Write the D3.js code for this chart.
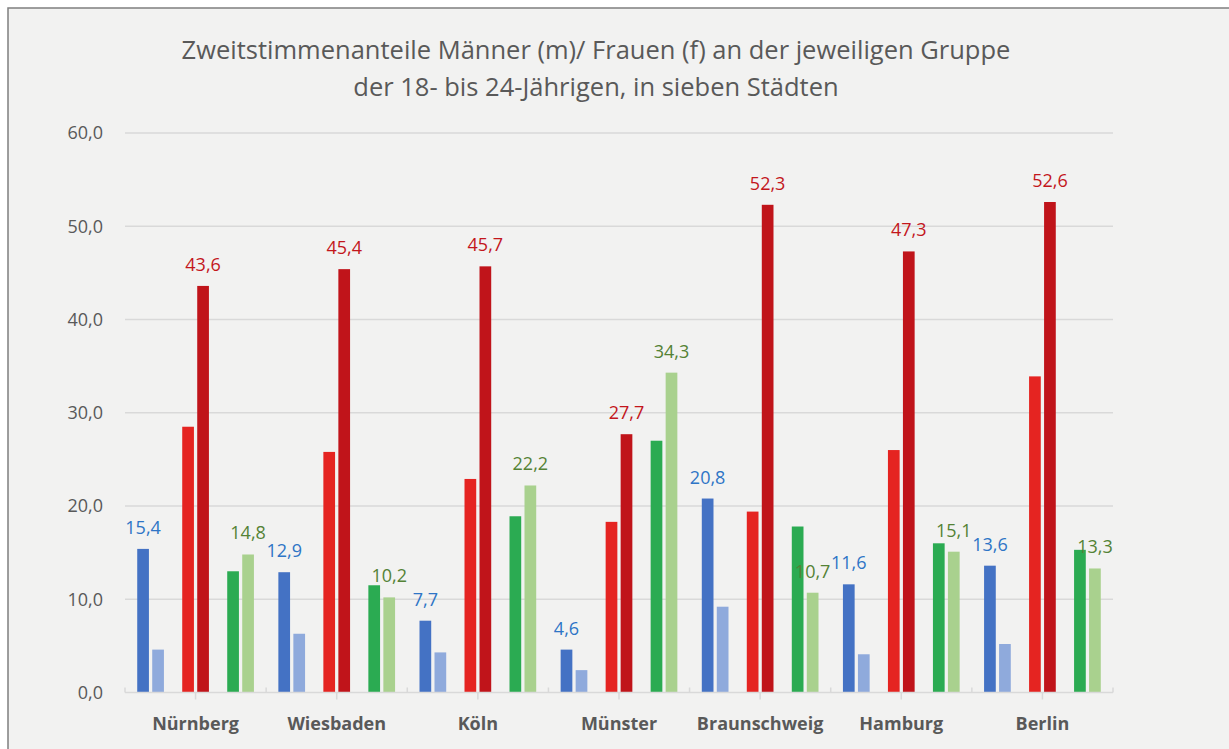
<!DOCTYPE html>
<html>
<head>
<meta charset="utf-8">
<script src="https://cdn.jsdelivr.net/npm/d3@7"></script>
<style>
  html, body { margin: 0; padding: 0; background: #fff; }
  svg { display: block; font-family: "Open Sans", sans-serif; }
</style>
</head>
<body>
<svg width="1229" height="749"></svg>
<script>
// Daten
const cities = ["Nürnberg", "Wiesbaden", "Köln", "Münster", "Braunschweig", "Hamburg", "Berlin"];
const blau1 = [15.4, 12.9, 7.7, 4.6, 20.8, 11.6, 13.6];
const blau2 = [4.6, 6.3, 4.3, 2.4, 9.2, 4.1, 5.2];
const rot1 = [28.5, 25.8, 22.9, 18.3, 19.4, 26.0, 33.9];
const rot2 = [43.6, 45.4, 45.7, 27.7, 52.3, 47.3, 52.6];
const gruen1 = [13.0, 11.5, 18.9, 27.0, 17.8, 16.0, 15.3];
const gruen2 = [14.8, 10.2, 22.2, 34.3, 10.7, 15.1, 13.3];
const yTicks = [0, 10, 20, 30, 40, 50, 60];
const titleLines = [
  "Zweitstimmenanteile Männer (m)/ Frauen (f) an der jeweiligen Gruppe",
  "der 18- bis 24-Jährigen, in sieben Städten"
];

// Serien: key, Werte, Farbe, Beschriftung
const series = [
  {key: "blau1", values: blau1, color: "#4472c4", label: "#2e75c6"},
  {key: "blau2", values: blau2, color: "#8faadc", label: null},
  {key: "rot1", values: rot1, color: "#e52421", label: null},
  {key: "rot2", values: rot2, color: "#c0141a", label: "#c3161c"},
  {key: "gruen1", values: gruen1, color: "#2bab52", label: null},
  {key: "gruen2", values: gruen2, color: "#a9d18e", label: "#548235"}
];
// Leere Plätze zwischen den Paaren
const slots = ["blau1", "blau2", "_a", "rot1", "rot2", "_b", "gruen1", "gruen2"];

const de = d3.formatLocale({decimal: ",", thousands: ".", grouping: [3], currency: ["", "€"]});
const fmt = de.format(".1f");

const svg = d3.select("svg");
const textColor = "#595959";

// Diagrammfläche
svg.append("rect")
  .attr("x", 8).attr("y", 8)
  .attr("width", 1240).attr("height", 760)
  .attr("fill", "#f2f2f1")
  .attr("stroke", "#7f7f7f")
  .attr("stroke-width", 1.5);

// Titel
svg.append("g").selectAll("text")
  .data(titleLines)
  .enter().append("text")
    .attr("x", 596)
    .attr("y", (d, i) => 59 + i * 37)
    .attr("text-anchor", "middle")
    .attr("fill", textColor)
    .attr("font-size", "25.5px")
    .text(d => d);

const x0 = d3.scaleBand().domain(cities).range([125, 1113]).padding(0);
const groupW = 116.7;
const x1 = d3.scaleBand().domain(slots)
  .range([(x0.bandwidth() - groupW) / 2, (x0.bandwidth() + groupW) / 2])
  .paddingInner(0.22).paddingOuter(0);
const y = d3.scaleLinear().domain([0, 60]).range([692.5, 133]);

// Gitterlinien
svg.append("g")
  .selectAll("line")
  .data(yTicks.filter(d => d > 0))
  .enter().append("line")
    .attr("x1", 125).attr("x2", 1113)
    .attr("y1", d => y(d)).attr("y2", d => y(d))
    .attr("stroke", "#d9d9d9")
    .attr("stroke-width", 1.5);

// y-Achse Beschriftung
const yAxis = svg.append("g")
  .attr("transform", "translate(125,0)")
  .call(d3.axisLeft(y).tickValues(yTicks).tickFormat(fmt).tickSize(0).tickPadding(22));
yAxis.select(".domain").remove();
yAxis.selectAll("text")
  .attr("fill", textColor)
  .attr("font-size", "18px")
  .attr("font-family", "Open Sans, sans-serif");

// Balken
const groups = svg.append("g")
  .selectAll("g")
  .data(cities)
  .enter().append("g")
    .attr("transform", d => "translate(" + x0(d) + ",0)");

groups.selectAll("rect")
  .data((c, i) => series.map(s => ({key: s.key, color: s.color, value: s.values[i]})))
  .enter().append("rect")
    .attr("x", d => x1(d.key))
    .attr("width", x1.bandwidth())
    .attr("y", d => y(d.value))
    .attr("height", d => y(0) - y(d.value))
    .attr("fill", d => d.color);

// Datenbeschriftungen
groups.selectAll("text")
  .data((c, i) => series.filter(s => s.label).map(s => ({key: s.key, color: s.label, value: s.values[i]})))
  .enter().append("text")
    .attr("x", d => x1(d.key) + x1.bandwidth() / 2)
    .attr("y", d => y(d.value) - 15)
    .attr("text-anchor", "middle")
    .attr("fill", d => d.color)
    .attr("font-size", "18px")
    .text(d => fmt(d.value));

// x-Achse
const xAxis = svg.append("g")
  .attr("transform", "translate(0," + y(0) + ")");
xAxis.append("line")
  .attr("x1", 125).attr("x2", 1113)
  .attr("stroke", "#d9d9d9")
  .attr("stroke-width", 1.5);
// Teilstriche an Kategoriengrenzen (nach oben)
xAxis.selectAll(".tb")
  .data(cities.concat(["_end"]))
  .enter().append("line")
    .attr("class", "tb")
    .attr("x1", (d, i) => 125 + i * x0.step())
    .attr("x2", (d, i) => 125 + i * x0.step())
    .attr("y1", -5).attr("y2", 0)
    .attr("stroke", "#d9d9d9")
    .attr("stroke-width", 1.5);
// Teilstriche in der Kategoriemitte (nach unten)
xAxis.selectAll(".tc")
  .data(cities)
  .enter().append("line")
    .attr("class", "tc")
    .attr("x1", d => x0(d) + x0.bandwidth() / 2)
    .attr("x2", d => x0(d) + x0.bandwidth() / 2)
    .attr("y1", 0).attr("y2", 7)
    .attr("stroke", "#d9d9d9")
    .attr("stroke-width", 1.5);
xAxis.selectAll(".cl")
  .data(cities)
  .enter().append("text")
    .attr("class", "cl")
    .attr("x", d => x0(d) + x0.bandwidth() / 2)
    .attr("y", 37)
    .attr("text-anchor", "middle")
    .attr("fill", textColor)
    .attr("font-size", "18px")
    .attr("font-weight", "bold")
    .text(d => d);
</script>
</body>
</html>
